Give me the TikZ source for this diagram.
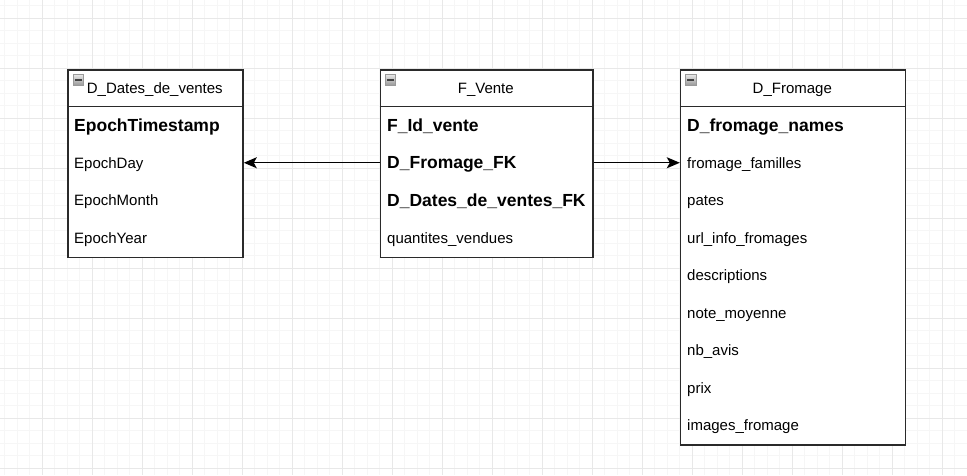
\documentclass[tikz,border=0pt]{standalone}
\usepackage{fontspec}
\setmainfont{Liberation Sans}
\usetikzlibrary{arrows.meta}
\definecolor{gridminor}{HTML}{F6F6F6}
\definecolor{gridmajor}{HTML}{E8E8E8}
\definecolor{boxline}{HTML}{2A2A2A}
\tikzset{
  minorline/.style={draw=gridminor, line width=1pt},
  majorline/.style={draw=gridmajor, line width=1pt},
  tbl/.style={draw=boxline, line width=1.5pt, fill=white, rectangle, inner sep=0pt, anchor=north west},
  sepline/.style={draw=boxline, line width=1.5pt},
  ttl/.style={font=\fontsize{15}{18}\selectfont, inner sep=0pt, anchor=base},
  rowtxt/.style={font=\fontsize{15}{18}\selectfont, inner sep=0pt, anchor=base west},
  rowbold/.style={font=\fontsize{17.5}{21}\selectfont\bfseries, inner sep=0pt, anchor=base west},
  icon/.style={draw=black!40, line width=0.7pt, top color=black!10, bottom color=black!40, minimum width=10.5pt, minimum height=10.5pt, inner sep=0pt},
  iconbar/.style={draw=black!75, line width=1.8pt},
  conn/.style={draw=black, line width=1.4pt, -{Stealth[length=13pt,width=11pt,inset=3pt]}}
}
\begin{document}
\begin{tikzpicture}[x=1pt,y=-1pt]
\useasboundingbox (0,0) rectangle (967,475);
\fill[white] (0,0) rectangle (967,475);
% grid
\foreach \i in {0,...,77} {\draw[minorline] ({4.8+12.5*\i},0) -- ({4.8+12.5*\i},475);}
\foreach \i in {0,...,37} {\draw[minorline] (0,{5.8+12.5*\i}) -- (967,{5.8+12.5*\i});}
\foreach \i in {0,...,18} {\draw[majorline] ({42.3+50*\i},0) -- ({42.3+50*\i},475);}
\foreach \i in {0,...,9} {\draw[majorline] (0,{18.3+50*\i}) -- (967,{18.3+50*\i});}

% ---------- D_Dates_de_ventes ----------
\node[tbl, minimum width=175pt, minimum height=187.5pt] (dd) at (67.3,69) {};
\draw[sepline] (67.3,106.5) -- (242.3,106.5);
\node[icon] (ddi) at (78.3,80) {};
\draw[iconbar] ([xshift=2pt]ddi.west) -- ([xshift=-2pt]ddi.east);
\node[ttl] (ddt) at (154.8,93.3) {D\_Dates\_de\_ventes};
\node[rowbold] (dd1) at (74,131) {EpochTimestamp};
\node[rowtxt] (dd2) at (74,168.3) {EpochDay};
\node[rowtxt] (dd3) at (74,205.8) {EpochMonth};
\node[rowtxt] (dd4) at (74,243.3) {EpochYear};

% ---------- F_Vente ----------
\node[tbl, minimum width=212.5pt, minimum height=187.5pt] (fv) at (379.5,69) {};
\draw[sepline] (379.5,106.5) -- (592,106.5);
\node[icon] (fvi) at (390.5,80) {};
\draw[iconbar] ([xshift=2pt]fvi.west) -- ([xshift=-2pt]fvi.east);
\node[ttl] (fvt) at (485.8,93.3) {F\_Vente};
\node[rowbold] (fv1) at (387,131) {F\_Id\_vente};
\node[rowbold] (fv2) at (387,168.5) {D\_Fromage\_FK};
\node[rowbold] (fv3) at (387,206) {D\_Dates\_de\_ventes\_FK};
\node[rowtxt] (fv4) at (387,243.3) {quantites\_vendues};
\coordinate (fvr2) at (485.8,162.75);

% ---------- D_Fromage ----------
\node[tbl, minimum width=225pt, minimum height=375pt] (df) at (679.8,69) {};
\draw[sepline] (679.8,106.5) -- (904.8,106.5);
\node[icon] (dfi) at (690.8,80) {};
\draw[iconbar] ([xshift=2pt]dfi.west) -- ([xshift=-2pt]dfi.east);
\node[ttl] (dft) at (792.3,93.3) {D\_Fromage};
\node[rowbold] (df1) at (687,131) {D\_fromage\_names};
\node[rowtxt] (df2) at (687,168.3) {fromage\_familles};
\node[rowtxt] (df3) at (687,205.8) {pates};
\node[rowtxt] (df4) at (687,243.3) {url\_info\_fromages};
\node[rowtxt] (df5) at (687,280.8) {descriptions};
\node[rowtxt] (df6) at (687,318.3) {note\_moyenne};
\node[rowtxt] (df7) at (687,355.8) {nb\_avis};
\node[rowtxt] (df8) at (687,393.3) {prix};
\node[rowtxt] (df9) at (687,430.8) {images\_fromage};

% ---------- connectors ----------
\draw[conn] (fv.west |- fvr2) -- (dd.east |- fvr2);
\draw[conn] (fv.east |- fvr2) -- (df.west |- fvr2);
\end{tikzpicture}
\end{document}
